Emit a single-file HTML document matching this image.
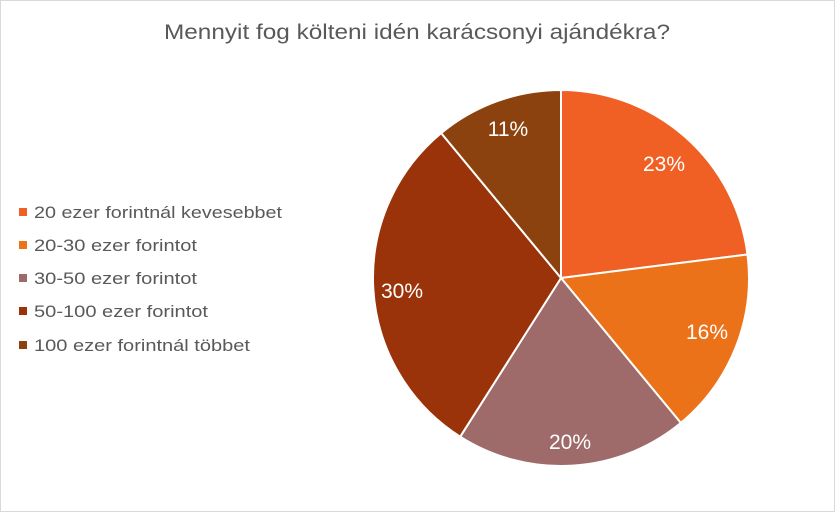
<!DOCTYPE html>
<html><head><meta charset="utf-8"><style>
html,body{margin:0;padding:0;background:#fff;}
body{width:835px;height:512px;overflow:hidden;position:relative;font-family:"Liberation Sans",sans-serif;}
</style></head><body>
<svg width="835" height="512" viewBox="0 0 835 512" xmlns="http://www.w3.org/2000/svg" style="position:absolute;left:0;top:0">
<rect x="0.5" y="0.5" width="834" height="511" fill="#fff" stroke="#d9d9d9"/>
<text x="164" y="39" textLength="506" lengthAdjust="spacingAndGlyphs" font-family="Liberation Sans, sans-serif" font-size="21" fill="#595959">Mennyit fog költeni idén karácsonyi ajándékra?</text>
<g stroke="#fff" stroke-width="2" stroke-linejoin="round">
<path d="M561,278 L561,90 A188,188 0 0 1 747.5,254.5 Z" fill="#F05F24"/>
<path d="M561,278 L747.5,254.5 A188,188 0 0 1 680.8,422.9 Z" fill="#EC7219"/>
<path d="M561,278 L680.8,422.9 A188,188 0 0 1 460.2,436.7 Z" fill="#9E6A6A"/>
<path d="M561,278 L460.2,436.7 A188,188 0 0 1 441.2,133.1 Z" fill="#9A330A"/>
<path d="M561,278 L441.2,133.1 A188,188 0 0 1 561,90 Z" fill="#8C420E"/>
</g>
<g font-family="Liberation Sans, sans-serif" font-size="21" fill="#fff" text-anchor="middle">
<text x="664" y="171">23%</text>
<text x="707" y="339">16%</text>
<text x="570" y="449">20%</text>
<text x="402" y="298">30%</text>
<text x="508" y="136">11%</text>
</g>
<g font-family="Liberation Sans, sans-serif" font-size="17" fill="#595959">
<rect x="19" y="208" width="8" height="8" fill="#F05F24"/><text x="34" y="218" textLength="248" lengthAdjust="spacingAndGlyphs">20 ezer forintnál kevesebbet</text>
<rect x="19" y="241" width="8" height="8" fill="#EC7219"/><text x="34" y="251" textLength="163" lengthAdjust="spacingAndGlyphs">20-30 ezer forintot</text>
<rect x="19" y="274" width="8" height="8" fill="#9E6A6A"/><text x="34" y="284" textLength="163" lengthAdjust="spacingAndGlyphs">30-50 ezer forintot</text>
<rect x="19" y="307" width="8" height="8" fill="#9A330A"/><text x="34" y="317" textLength="174" lengthAdjust="spacingAndGlyphs">50-100 ezer forintot</text>
<rect x="19" y="341" width="8" height="8" fill="#8C420E"/><text x="34" y="351" textLength="216" lengthAdjust="spacingAndGlyphs">100 ezer forintnál többet</text>
</g>
</svg>
</body></html>
